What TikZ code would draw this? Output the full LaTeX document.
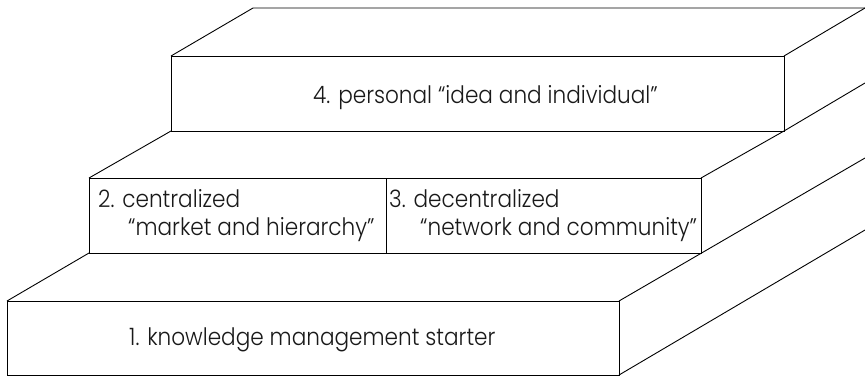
\documentclass[tikz,border=0pt]{standalone}
\usepackage{fontspec}
\setmainfont{Poppins}[UprightFont=* Light, FakeStretch=0.9]
\tikzset{
  edge/.style={line width=0.9pt, draw=black, line join=miter},
  box/.style={edge, rectangle, inner sep=0pt, outer sep=0pt},
  txt/.style={inner sep=0pt, anchor=base west, font=\fontsize{24}{28}\selectfont, text=black!90}
}
\begin{document}
\begin{tikzpicture}[x=1pt,y=-1pt]
\useasboundingbox[fill=white] (0,0) rectangle (865,376);
% level 4
\node[box, minimum width=613pt, minimum height=75pt] (s4) at (477.5,93.5) {};
% level 2/3
\node[box, minimum width=297pt, minimum height=75pt] (s2) at (237.5,215.5) {};
\node[box, minimum width=315pt, minimum height=75pt] (s3) at (543.5,215.5) {};
% level 1
\node[box, minimum width=612pt, minimum height=74pt] (s1) at (313,338) {};
% top faces and sides
\coordinate (e) at (865,8);
\draw[edge] (s4.north west) -- ++(82,-48) coordinate (b4) -- (e);
\draw[edge] (s4.north east) -- ++(81,-48);
\draw[edge] (s4.south east) -- ++(81,-48);
\draw[edge] (s2.north west) -- (s4.south west);
\draw[edge] (s3.north east) -- (s4.south east);
\draw[edge] (s1.north west) -- (s2.south west);
\draw[edge] (s1.north east) -- ++(246,-143);
\draw[edge] (s1.south east) -- ++(246,-145);
% texts
\node[txt] (t4) at (313,103) {4. personal “idea and individual”};
\node[txt] (t2a) at (98,207) {2. centralized};
\node[txt] (t2b) at (128,235) {“market and hierarchy”};
\node[txt] (t3a) at (389,207) {3. decentralized};
\node[txt] (t3b) at (420,235) {“network and community”};
\node[txt] (t1) at (129,345) {1. knowledge management starter};
\end{tikzpicture}
\end{document}
